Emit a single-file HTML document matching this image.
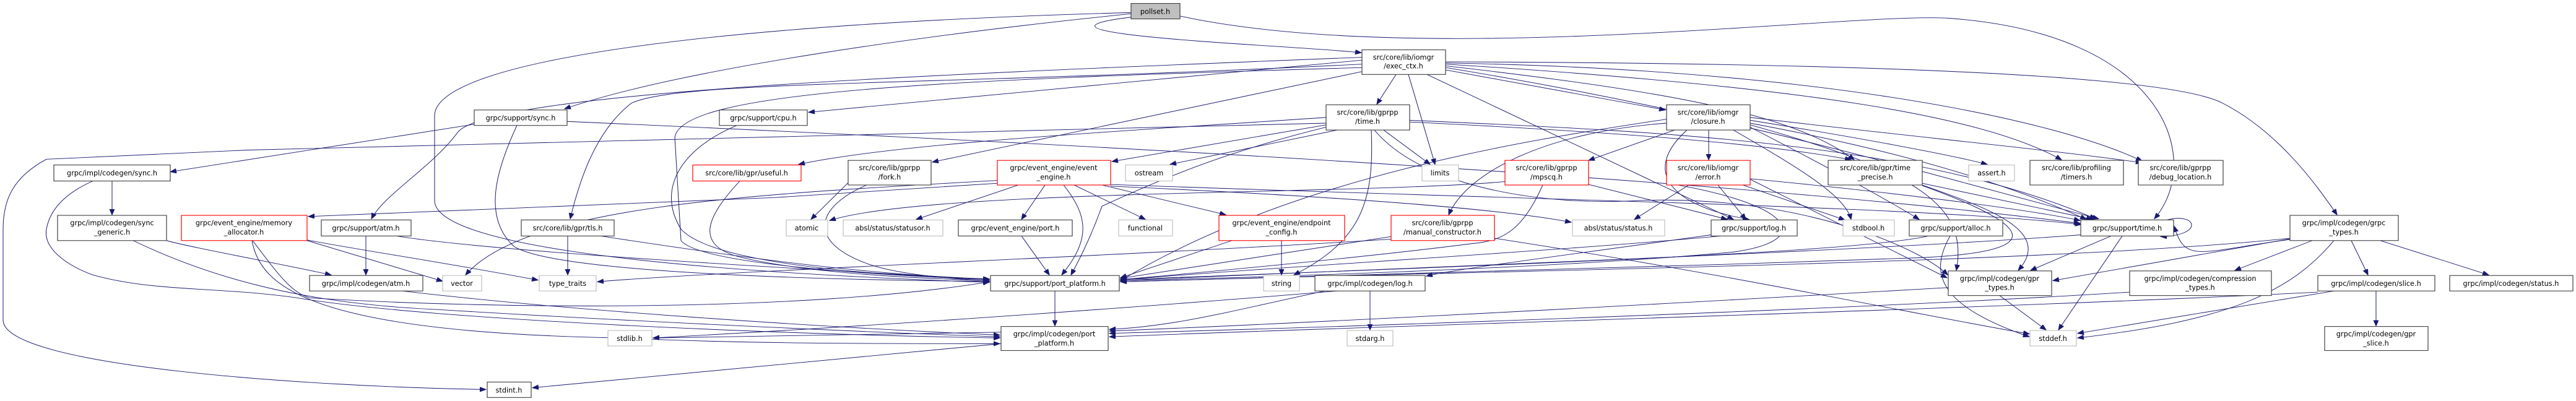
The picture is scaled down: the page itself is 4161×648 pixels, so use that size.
<!DOCTYPE html>
<html><head><meta charset="utf-8"><style>
html,body{margin:0;padding:0;background:#fff;}
svg{display:block;}
text{font-family:"DejaVu Sans","Liberation Sans",sans-serif;font-size:11.3px;fill:#000;text-anchor:middle;transform-box:fill-box;transform-origin:center;transform:scale(1,1.08);}
.b{fill:#fff;stroke:#404040;stroke-width:1.2;}
.g{fill:#fff;stroke:#bfbfbf;stroke-width:1.2;}
.r{fill:#fff;stroke:#ff0000;stroke-width:1.2;}
.e path{fill:none;stroke:#191970;stroke-width:1;}
</style></head><body>
<svg width="4161" height="648" viewBox="0 0 4161 648" xmlns="http://www.w3.org/2000/svg">
<defs><marker id="a" markerUnits="userSpaceOnUse" markerWidth="12" markerHeight="10" refX="10" refY="4" orient="auto"><path d="M0,0 L10,4 L0,8 Z" fill="#191970" stroke="#191970"/></marker></defs>
<g transform="scale(1,0.9256)">
<g class="e">
<path d="M1827,30 C1600,60 2100,80 2199,92" marker-end="url(#a)"/>
<path d="M1827,24 C1500,60 1100,120 912,190" marker-end="url(#a)"/>
<path d="M1827,22 C1200,40 710,100 702,200 L702,350 C702,420 1000,470 1598,493" marker-end="url(#a)"/>
<path d="M1906,28 C2300,120 3000,20 3150,32 C3500,60 3560,280 3480,382" marker-end="url(#a)"/>
<path d="M2255,130 L2224,182" marker-end="url(#a)"/>
<path d="M2275,130 L2318,287" marker-end="url(#a)"/>
<path d="M2305,130 L2800,383" marker-end="url(#a)"/>
<path d="M2335,122 L2690,192" marker-end="url(#a)"/>
<path d="M2335,115 C2700,160 2900,200 2995,279" marker-end="url(#a)"/>
<path d="M2335,112 C2900,150 3200,200 3330,279" marker-end="url(#a)"/>
<path d="M2335,110 C2900,120 3300,200 3460,281" marker-end="url(#a)"/>
<path d="M2335,108 C3000,110 3500,130 3590,180 C3680,230 3740,320 3775,375" marker-end="url(#a)"/>
<path d="M2200,105 L1306,196" marker-end="url(#a)"/>
<path d="M2200,112 C1500,150 1100,140 1020,180 C960,230 935,320 921,382" marker-end="url(#a)"/>
<path d="M2200,125 L1506,283" marker-end="url(#a)"/>
<path d="M2200,100 C1500,130 800,160 740,230 C700,290 620,340 600,382" marker-end="url(#a)"/>
<path d="M2200,118 C1500,140 1100,160 1090,240 L1100,420 C1130,460 1400,480 1598,488" marker-end="url(#a)"/>
<path d="M2335,118 C2800,200 3100,300 3390,382" marker-end="url(#a)"/>
<path d="M2142,205 C1800,230 1450,250 1290,287" marker-end="url(#a)"/>
<path d="M2160,227 L1890,287" marker-end="url(#a)"/>
<path d="M2235,227 L2310,287" marker-end="url(#a)"/>
<path d="M2215,227 C2220,350 2200,420 2090,480" marker-end="url(#a)"/>
<path d="M2277,210 C2700,230 3100,250 3385,382" marker-end="url(#a)"/>
<path d="M2277,213 C2600,230 2850,250 2990,279" marker-end="url(#a)"/>
<path d="M2142,215 C1400,230 800,250 400,262 L75,278 C20,310 5,350 5,400 L5,560 C10,640 500,675 785,680" marker-end="url(#a)"/>
<path d="M2142,222 C2000,260 1900,300 1780,360 C1760,420 1740,460 1730,480" marker-end="url(#a)"/>
<path d="M2142,218 L1796,282" marker-end="url(#a)"/>
<path d="M2220,227 C2300,330 2500,360 2650,350 C2900,340 3100,430 3146,480" marker-end="url(#a)"/>
<path d="M2705,227 L2566,280" marker-end="url(#a)"/>
<path d="M2760,227 L2760,279" marker-end="url(#a)"/>
<path d="M2692,215 C2500,230 2370,300 2340,375" marker-end="url(#a)"/>
<path d="M2725,227 C2650,300 2700,360 2825,383" marker-end="url(#a)"/>
<path d="M2827,210 C3000,240 3150,270 3210,287" marker-end="url(#a)"/>
<path d="M2827,205 C3100,240 3300,260 3460,284" marker-end="url(#a)"/>
<path d="M2800,227 C2900,290 2980,340 2990,383" marker-end="url(#a)"/>
<path d="M2827,222 C2950,290 3050,350 3100,383" marker-end="url(#a)"/>
<path d="M2692,208 C2500,240 2100,300 1810,490" marker-end="url(#a)"/>
<path d="M2827,215 C3000,250 3200,300 3370,383" marker-end="url(#a)"/>
<path d="M2827,218 C3100,300 3180,360 3160,472" marker-end="url(#a)"/>
<path d="M766,217 L275,300" marker-end="url(#a)"/>
<path d="M835,219 C800,300 780,380 830,430 C900,480 1400,490 1598,491" marker-end="url(#a)"/>
<path d="M916,212 C1500,240 2700,300 3360,390" marker-end="url(#a)"/>
<path d="M1190,219 C1100,260 1060,330 1100,400 C1150,460 1400,480 1598,488" marker-end="url(#a)"/>
<path d="M1195,316 C1140,380 1120,430 1200,450 C1300,475 1450,485 1598,490" marker-end="url(#a)"/>
<path d="M1370,319 L1310,383" marker-end="url(#a)"/>
<path d="M1400,323 C1320,360 1300,420 1400,460 C1450,480 1550,488 1598,490" marker-end="url(#a)"/>
<path d="M1645,323 L1480,383" marker-end="url(#a)"/>
<path d="M1688,323 L1650,383" marker-end="url(#a)"/>
<path d="M1718,323 C1760,380 1760,420 1715,480" marker-end="url(#a)"/>
<path d="M1735,323 L1850,383" marker-end="url(#a)"/>
<path d="M1780,323 L1980,375" marker-end="url(#a)"/>
<path d="M1611,315 C1200,340 850,360 752,480" marker-end="url(#a)"/>
<path d="M1611,320 L1250,345 L498,378" marker-end="url(#a)"/>
<path d="M1794,325 C2100,340 2400,360 2538,388" marker-end="url(#a)"/>
<path d="M1794,322 C2500,350 3100,360 3362,392" marker-end="url(#a)"/>
<path d="M2431,317 C2200,340 1500,330 1340,385" marker-end="url(#a)"/>
<path d="M2492,323 C2460,400 2430,420 2380,425 C2200,450 1900,480 1810,488" marker-end="url(#a)"/>
<path d="M2566,322 L2790,383" marker-end="url(#a)"/>
<path d="M2728,323 L2640,383" marker-end="url(#a)"/>
<path d="M2775,323 L2820,383" marker-end="url(#a)"/>
<path d="M2815,323 L2980,384" marker-end="url(#a)"/>
<path d="M2710,323 C2900,360 2930,420 2800,440 C2500,470 2000,485 1810,490" marker-end="url(#a)"/>
<path d="M2827,313 L3145,485" marker-end="url(#a)"/>
<path d="M2827,312 C3000,330 3250,360 3360,385" marker-end="url(#a)"/>
<path d="M3105,320 L3380,383" marker-end="url(#a)"/>
<path d="M3105,323 C3200,360 3320,400 3260,472" marker-end="url(#a)"/>
<path d="M3105,324 C3300,400 3300,440 3100,450 C2600,470 2000,485 1810,492" marker-end="url(#a)"/>
<path d="M181,316 L181,375" marker-end="url(#a)"/>
<path d="M150,316 C100,340 80,370 75,400 C70,430 100,460 150,480 C250,510 350,500 480,520 C700,560 1300,585 1615,590" marker-end="url(#a)"/>
<path d="M269,420 C300,430 450,460 535,480" marker-end="url(#a)"/>
<path d="M215,420 C350,490 500,530 700,540 C1000,560 1400,580 1615,588" marker-end="url(#a)"/>
<path d="M407,420 C420,500 500,580 1000,590 C1200,600 1400,600 1615,600" marker-end="url(#a)"/>
<path d="M408,420 C450,480 470,510 500,520 C800,540 1300,545 1598,492" marker-end="url(#a)"/>
<path d="M496,420 L715,491" marker-end="url(#a)"/>
<path d="M496,419 C600,440 700,455 869,489" marker-end="url(#a)"/>
<path d="M591,412 L591,480" marker-end="url(#a)"/>
<path d="M640,412 C800,440 1300,470 1598,488" marker-end="url(#a)"/>
<path d="M917,412 L917,480" marker-end="url(#a)"/>
<path d="M970,412 C1200,450 1400,480 1598,487" marker-end="url(#a)"/>
<path d="M1650,412 L1695,480" marker-end="url(#a)"/>
<path d="M1990,420 L1810,485" marker-end="url(#a)"/>
<path d="M2070,420 L2070,480" marker-end="url(#a)"/>
<path d="M2247,413 L1810,486" marker-end="url(#a)"/>
<path d="M2414,416 C2800,480 3100,550 3278,583" marker-end="url(#a)"/>
<path d="M2414,405 C2000,440 1200,470 965,492" marker-end="url(#a)"/>
<path d="M2764,410 C2500,450 2350,470 2304,482" marker-end="url(#a)"/>
<path d="M2780,412 C2500,440 2000,470 1810,489" marker-end="url(#a)"/>
<path d="M3150,412 C3120,470 3120,530 3278,588" marker-end="url(#a)"/>
<path d="M3115,412 C3000,440 2500,460 1810,488" marker-end="url(#a)"/>
<path d="M3410,412 L3280,472" marker-end="url(#a)"/>
<path d="M3428,412 L3325,576" marker-end="url(#a)"/>
<path d="M3361,410 C3000,440 2200,470 1810,490" marker-end="url(#a)"/>
<path d="M3500,384 C3550,370 3560,412 3490,413" marker-end="url(#a)"/>
<path d="M3735,420 L3610,472" marker-end="url(#a)"/>
<path d="M3798,420 L3825,480" marker-end="url(#a)"/>
<path d="M3845,420 L4020,480" marker-end="url(#a)"/>
<path d="M3770,420 C3700,510 3600,560 3356,590" marker-end="url(#a)"/>
<path d="M3699,417 L3316,490" marker-end="url(#a)"/>
<path d="M3699,418 C3550,440 3530,460 3512,395" marker-end="url(#a)"/>
<path d="M3699,416 C3300,460 2500,470 1810,492" marker-end="url(#a)"/>
<path d="M3838,508 L3838,569" marker-end="url(#a)"/>
<path d="M3770,508 L3356,582" marker-end="url(#a)"/>
<path d="M3744,510 C3200,540 2200,570 1792,588" marker-end="url(#a)"/>
<path d="M3440,510 C3000,540 2200,570 1792,582" marker-end="url(#a)"/>
<path d="M1704,508 L1704,569" marker-end="url(#a)"/>
<path d="M3230,516 L3305,576" marker-end="url(#a)"/>
<path d="M3147,502 C2700,530 2200,560 1792,578" marker-end="url(#a)"/>
<path d="M2213,508 L2213,576" marker-end="url(#a)"/>
<path d="M2160,508 C1800,540 1400,570 1055,590" marker-end="url(#a)"/>
<path d="M2140,508 C2000,540 1900,570 1792,575" marker-end="url(#a)"/>
<path d="M1617,580 L1055,590" marker-end="url(#a)"/>
<path d="M1617,600 L860,677" marker-end="url(#a)"/>
<path d="M650,508 C900,540 1300,570 1615,585" marker-end="url(#a)"/>
</g>
<g>
<rect class="b" x="1827" y="6" width="79" height="27" style="fill:#bfbfbf"/><text x="1866" y="24">pollset.h</text>
<rect class="b" x="2200" y="87" width="135" height="43"/><text x="2267" y="104">src/core/lib/iomgr</text><text x="2267" y="119">/exec_ctx.h</text>
<rect class="b" x="87" y="288" width="188" height="28"/><text x="181" y="306">grpc/impl/codegen/sync.h</text>
<rect class="b" x="766" y="192" width="150" height="27"/><text x="841" y="210">grpc/support/sync.h</text>
<rect class="b" x="1162" y="192" width="142" height="27"/><text x="1233" y="210">grpc/support/cpu.h</text>
<rect class="b" x="2142" y="183" width="135" height="44"/><text x="2209" y="200">src/core/lib/gprpp</text><text x="2209" y="216">/time.h</text>
<rect class="b" x="2692" y="183" width="135" height="44"/><text x="2759" y="200">src/core/lib/iomgr</text><text x="2759" y="216">/closure.h</text>
<rect class="r" x="1119" y="288" width="175" height="28"/><text x="1206" y="306">src/core/lib/gpr/useful.h</text>
<rect class="b" x="1370" y="280" width="134" height="43"/><text x="1437" y="297">src/core/lib/gprpp</text><text x="1437" y="313">/fork.h</text>
<rect class="r" x="1611" y="280" width="183" height="43"/><text x="1702" y="297">grpc/event_engine/event</text><text x="1702" y="313">_engine.h</text>
<rect class="g" x="1818" y="288" width="76" height="28"/><text x="1856" y="306">ostream</text>
<rect class="g" x="2297" y="288" width="59" height="28"/><text x="2326" y="306">limits</text>
<rect class="r" x="2431" y="280" width="135" height="43"/><text x="2498" y="297">src/core/lib/gprpp</text><text x="2498" y="313">/mpscq.h</text>
<rect class="r" x="2692" y="280" width="135" height="43"/><text x="2759" y="297">src/core/lib/iomgr</text><text x="2759" y="313">/error.h</text>
<rect class="b" x="2953" y="280" width="152" height="43"/><text x="3029" y="297">src/core/lib/gpr/time</text><text x="3029" y="313">_precise.h</text>
<rect class="g" x="3180" y="288" width="74" height="28"/><text x="3217" y="306">assert.h</text>
<rect class="b" x="3279" y="280" width="151" height="43"/><text x="3354" y="297">src/core/lib/profiling</text><text x="3354" y="313">/timers.h</text>
<rect class="b" x="3454" y="280" width="137" height="43"/><text x="3522" y="297">src/core/lib/gprpp</text><text x="3522" y="313">/debug_location.h</text>
<rect class="b" x="93" y="376" width="176" height="44"/><text x="181" y="393">grpc/impl/codegen/sync</text><text x="181" y="409">_generic.h</text>
<rect class="r" x="293" y="376" width="203" height="44"/><text x="394" y="393">grpc/event_engine/memory</text><text x="394" y="409">_allocator.h</text>
<rect class="b" x="519" y="384" width="145" height="28"/><text x="591" y="402">grpc/support/atm.h</text>
<rect class="b" x="842" y="384" width="150" height="28"/><text x="917" y="402">src/core/lib/gpr/tls.h</text>
<rect class="g" x="1270" y="384" width="67" height="28"/><text x="1303" y="402">atomic</text>
<rect class="g" x="1362" y="384" width="161" height="28"/><text x="1442" y="402">absl/status/statusor.h</text>
<rect class="b" x="1548" y="384" width="184" height="28"/><text x="1640" y="402">grpc/event_engine/port.h</text>
<rect class="g" x="1807" y="384" width="87" height="28"/><text x="1850" y="402">functional</text>
<rect class="r" x="1969" y="376" width="203" height="44"/><text x="2070" y="393">grpc/event_engine/endpoint</text><text x="2070" y="409">_config.h</text>
<rect class="r" x="2247" y="376" width="167" height="44"/><text x="2330" y="393">src/core/lib/gprpp</text><text x="2330" y="409">/manual_constructor.h</text>
<rect class="g" x="2540" y="384" width="149" height="28"/><text x="2614" y="402">absl/status/status.h</text>
<rect class="b" x="2764" y="384" width="139" height="28"/><text x="2833" y="402">grpc/support/log.h</text>
<rect class="g" x="2977" y="384" width="83" height="28"/><text x="3018" y="402">stdbool.h</text>
<rect class="b" x="3084" y="384" width="151" height="28"/><text x="3159" y="402">grpc/support/alloc.h</text>
<rect class="b" x="3361" y="384" width="150" height="28"/><text x="3436" y="402">grpc/support/time.h</text>
<rect class="b" x="3699" y="376" width="175" height="44"/><text x="3786" y="393">grpc/impl/codegen/grpc</text><text x="3786" y="409">_types.h</text>
<rect class="b" x="500" y="481" width="183" height="27"/><text x="591" y="499">grpc/impl/codegen/atm.h</text>
<rect class="g" x="715" y="481" width="63" height="27"/><text x="746" y="499">vector</text>
<rect class="g" x="871" y="481" width="92" height="27"/><text x="917" y="499">type_traits</text>
<rect class="b" x="1600" y="481" width="208" height="27"/><text x="1704" y="499">grpc/support/port_platform.h</text>
<rect class="g" x="2041" y="481" width="58" height="27"/><text x="2070" y="499">string</text>
<rect class="b" x="2124" y="481" width="178" height="27"/><text x="2213" y="499">grpc/impl/codegen/log.h</text>
<rect class="b" x="3147" y="473" width="167" height="43"/><text x="3230" y="490">grpc/impl/codegen/gpr</text><text x="3230" y="506">_types.h</text>
<rect class="b" x="3440" y="473" width="229" height="43"/><text x="3554" y="490">grpc/impl/codegen/compression</text><text x="3554" y="506">_types.h</text>
<rect class="b" x="3744" y="481" width="189" height="27"/><text x="3838" y="499">grpc/impl/codegen/slice.h</text>
<rect class="b" x="3957" y="481" width="199" height="27"/><text x="4056" y="499">grpc/impl/codegen/status.h</text>
<rect class="g" x="982" y="577" width="71" height="27"/><text x="1017" y="595">stdlib.h</text>
<rect class="g" x="2176" y="577" width="74" height="27"/><text x="2213" y="595">stdarg.h</text>
<rect class="g" x="3279" y="577" width="75" height="27"/><text x="3316" y="595">stddef.h</text>
<rect class="b" x="1617" y="570" width="173" height="42"/><text x="1703" y="587">grpc/impl/codegen/port</text><text x="1703" y="603">_platform.h</text>
<rect class="b" x="3755" y="570" width="167" height="42"/><text x="3838" y="587">grpc/impl/codegen/gpr</text><text x="3838" y="603">_slice.h</text>
<rect class="b" x="787" y="667" width="71" height="27"/><text x="822" y="685">stdint.h</text>
</g>
</g>
</svg>
</body></html>
